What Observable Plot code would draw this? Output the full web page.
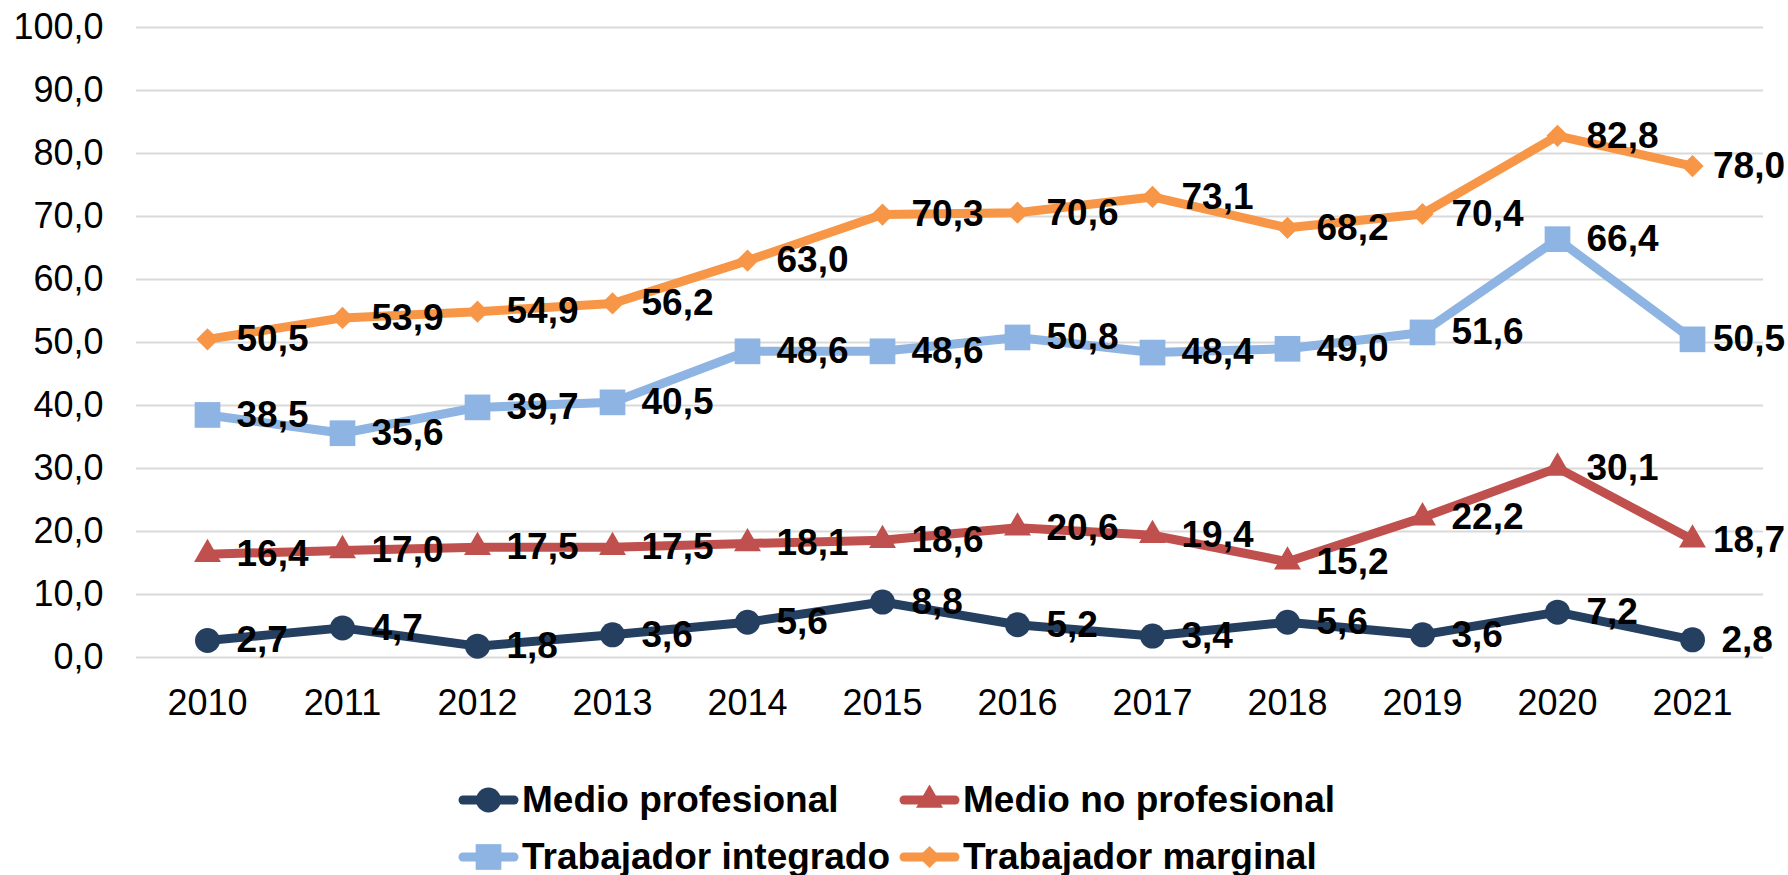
<!DOCTYPE html>
<html>
<head>
<meta charset="utf-8">
<script src="https://cdn.jsdelivr.net/npm/d3@7"></script>
<script src="https://cdn.jsdelivr.net/npm/@observablehq/plot@0.6"></script>
<style>
  html, body { margin: 0; padding: 0; background: #fff; overflow: hidden; }
  body { width: 1788px; height: 875px; position: relative; font-family: "Liberation Sans", Arial, sans-serif; }
  #legend { position: absolute; left: 458px; top: 771px; display: grid; grid-template-columns: 441px 441px; grid-auto-rows: 57px; }
  .item { display: flex; align-items: center; font-weight: bold; font-size: 37px; color: #000; white-space: nowrap; }
  .item svg { margin-right: 3px; flex: none; }
</style>
</head>
<body>
<div id="chart"></div>
<div id="legend"></div>
<script>
const years = [2010, 2011, 2012, 2013, 2014, 2015, 2016, 2017, 2018, 2019, 2020, 2021];
const seriesNames = ["Medio profesional", "Medio no profesional", "Trabajador integrado", "Trabajador marginal"];
const medioProfesional = [2.7, 4.7, 1.8, 3.6, 5.6, 8.8, 5.2, 3.4, 5.6, 3.6, 7.2, 2.8];
const medioNoProfesional = [16.4, 17.0, 17.5, 17.5, 18.1, 18.6, 20.6, 19.4, 15.2, 22.2, 30.1, 18.7];
const trabajadorIntegrado = [38.5, 35.6, 39.7, 40.5, 48.6, 48.6, 50.8, 48.4, 49.0, 51.6, 66.4, 50.5];
const trabajadorMarginal = [50.5, 53.9, 54.9, 56.2, 63.0, 70.3, 70.6, 73.1, 68.2, 70.4, 82.8, 78.0];
const yTicks = [0, 10, 20, 30, 40, 50, 60, 70, 80, 90, 100];

const colors = ["#243F60", "#C0504D", "#8DB4E2", "#F79646"];
const symbols = ["circle", "triangle", "square", "diamond2"];
const radii = [12.5, 10, 14.5, 10];
const valueArrays = [medioProfesional, medioNoProfesional, trabajadorIntegrado, trabajadorMarginal];

const data = [];
seriesNames.forEach((s, i) => years.forEach((y, j) => data.push({series: s, idx: i, year: y, value: valueArrays[i][j]})));

const fmt = v => v.toFixed(1).replace(".", ",");

const marks = [
  Plot.ruleY(yTicks, {stroke: "#D9D9D9", strokeWidth: 2}),
  Plot.axisY(yTicks, {tickSize: 0, tickPadding: 33, tickFormat: fmt, fontSize: 36, fill: "#000", label: null}),
  Plot.axisX({tickSize: 0, tickPadding: 32, tickFormat: d => String(d), fontSize: 36, fill: "#000", label: null})
];
seriesNames.forEach((s, i) => {
  const d = data.filter(e => e.idx === i);
  marks.push(Plot.line(d, {x: "year", y: "value", stroke: colors[i], strokeWidth: 9, strokeLinejoin: "round", strokeLinecap: "round"}));
  marks.push(Plot.dot(d, {x: "year", y: "value", fill: colors[i], stroke: "none", symbol: symbols[i], r: radii[i]}));
});
marks.push(Plot.text(data, {x: "year", y: "value", text: d => fmt(d.value), dx: 29, textAnchor: "start", fontSize: 37, fontWeight: "bold", fill: "#000", className: "vlabels"}));

const chart = Plot.plot({
  width: 1788,
  height: 760,
  marginLeft: 136,
  marginRight: 25,
  marginTop: 27,
  marginBottom: 103,
  style: {fontFamily: "'Liberation Sans', Arial, sans-serif", background: "transparent", overflow: "visible"},
  x: {type: "point", domain: years, padding: 0.5},
  y: {domain: [0, 100]},
  marks
});
document.getElementById("chart").append(chart);

// keep labels within chart width (as the spreadsheet does)
chart.querySelectorAll(".vlabels text").forEach(t => {
  const b = t.getBBox();
  const ctm = t.getCTM();
  const right = (b.x + b.width) + (ctm ? ctm.e : 0);
  const over = right - 1785;
  if (over > 0) {
    t.setAttribute("transform", (t.getAttribute("transform") || "") + ` translate(${-over},0)`);
  }
});

// legend
const legend = d3.select("#legend");
const order = [0, 1, 2, 3];
order.forEach(i => {
  const item = legend.append("div").attr("class", "item");
  const svg = item.append("svg").attr("width", 61).attr("height", 30);
  svg.append("line").attr("x1", 5).attr("x2", 56).attr("y1", 15).attr("y2", 15)
    .attr("stroke", colors[i]).attr("stroke-width", 9).attr("stroke-linecap", "round");
  const symMap = {circle: d3.symbolCircle, triangle: d3.symbolTriangle, square: d3.symbolSquare, diamond2: d3.symbolDiamond2};
  svg.append("path").attr("transform", "translate(30.5,15)")
    .attr("d", d3.symbol(symMap[symbols[i]], radii[i] * radii[i] * Math.PI)())
    .attr("fill", colors[i]);
  item.append("span").text(seriesNames[i]);
});
</script>
</body>
</html>
